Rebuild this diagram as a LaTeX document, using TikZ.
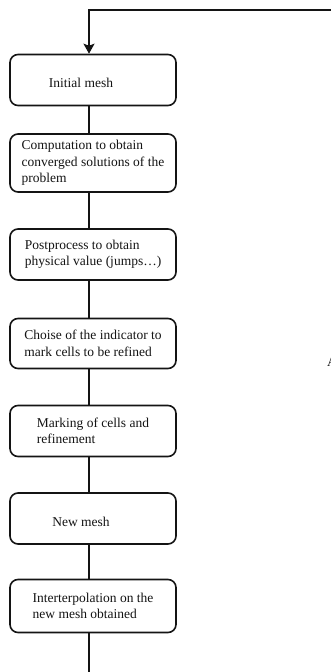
\documentclass[tikz,border=0pt]{standalone}
\usepackage{fontspec}
\setmainfont{Liberation Serif}
\usetikzlibrary{arrows.meta,positioning}
\definecolor{inkblack}{RGB}{20,20,20}
\tikzset{
  base/.style={font=\fontsize{13.5}{16.5}\selectfont, align=left, inner sep=2pt, text=inkblack},
  box/.style={base, rectangle, rounded corners=8pt, draw=inkblack, fill=white, line width=1.6pt, minimum width=166pt, minimum height=51pt},
  lbl/.style={base},
  link/.style={line width=1.6pt, draw=inkblack},
  arr/.style={link, -{Stealth[length=10pt,width=11pt,inset=2pt]}},
}

\begin{document}
\begin{tikzpicture}[x=1pt,y=-1pt]
  \useasboundingbox (0,0) rectangle (331,672);
  % refinement loop
  \node[box, label={[lbl,xshift=-12pt,yshift=-3pt]center:Initial mesh}] (init) at (93,80) {};
  \node[box, minimum height=58pt] (comp) at (93,163) {Computation to obtain\\converged solutions of the\\problem};
  \node[box] (post) at (93,254.5) {Postprocess to obtain\\physical value (jumps…)};
  \node[box, minimum height=50pt] (indic) at (93,343.5) {Choise of the indicator to\\mark cells to be refined};
  \node[box] (mark) at (93,431) {Marking of cells and\\refinement};
  \node[box, label={[lbl,xshift=-12pt,yshift=-3pt]center:New mesh}] (newm) at (93,518.5) {};
  \node[box, minimum height=53pt] (interp) at (93,606) {Interterpolation on the\\new mesh obtained};
  \node[lbl, anchor=west, inner sep=0pt] (cutA) at (327,362) {A};
  \foreach \a/\b in {init/comp,comp/post,post/indic,indic/mark,mark/newm,newm/interp}
    {\draw[link] ([xshift=-4pt]\a.south) -- ([xshift=-4pt]\b.north);}
  \coordinate (loopin) at (345,10);
  \coordinate (loopout) at (89,680);
  \draw[arr] (loopin) -| ([xshift=-4pt]init.north);
  \draw[link] ([xshift=-4pt]interp.south) -- (loopout);
\end{tikzpicture}
\end{document}
